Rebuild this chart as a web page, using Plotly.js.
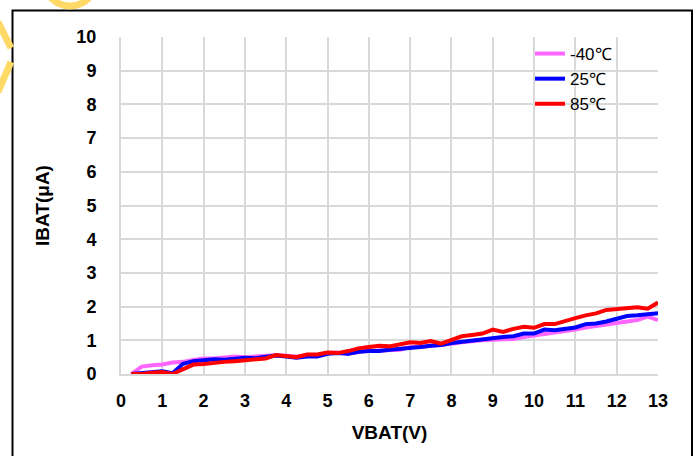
<!DOCTYPE html>
<html>
<head>
<meta charset="utf-8">
<script src="https://cdn.plot.ly/plotly-3.0.1.min.js"></script>
<style>html,body{margin:0;padding:0;background:#fff;}#chart{width:697px;height:456px;}</style>
</head>
<body>
<div id="chart"></div>
<script>
const vbat = [0.25,0.5,0.75,1,1.25,1.5,1.75,2,2.25,2.5,2.75,3,3.25,3.5,3.75,4,4.25,4.5,4.75,5,5.25,5.5,5.75,6,6.25,6.5,6.75,7,7.25,7.5,7.75,8,8.25,8.5,8.75,9,9.25,9.5,9.75,10,10.25,10.5,10.75,11,11.25,11.5,11.75,12,12.25,12.5,12.75,13];
const ibatM40 = [0,0.22,0.26,0.28,0.34,0.36,0.42,0.46,0.46,0.5,0.52,0.5,0.52,0.54,0.56,0.54,0.52,0.56,0.56,0.62,0.64,0.6,0.66,0.7,0.7,0.72,0.72,0.8,0.8,0.84,0.86,0.9,0.94,0.98,1.0,1.02,1.04,1.04,1.1,1.14,1.18,1.22,1.26,1.32,1.38,1.42,1.46,1.5,1.56,1.6,1.7,1.6];
const ibat25 = [0,0.02,0.04,0.08,0.02,0.3,0.38,0.4,0.44,0.42,0.46,0.48,0.47,0.5,0.55,0.52,0.48,0.52,0.52,0.6,0.62,0.6,0.66,0.68,0.68,0.72,0.74,0.78,0.8,0.84,0.86,0.92,0.96,1.0,1.02,1.06,1.1,1.12,1.2,1.2,1.32,1.3,1.34,1.38,1.48,1.5,1.56,1.64,1.72,1.74,1.78,1.8];
const ibat85 = [0,0,0.04,0.06,0,0.14,0.28,0.3,0.34,0.36,0.38,0.4,0.42,0.46,0.56,0.52,0.5,0.58,0.58,0.64,0.62,0.68,0.76,0.8,0.84,0.82,0.88,0.94,0.92,0.98,0.9,1.0,1.12,1.16,1.2,1.32,1.25,1.34,1.4,1.37,1.48,1.48,1.58,1.66,1.74,1.8,1.9,1.92,1.96,1.98,1.94,2.12];
const seriesNames = ['-40℃','25℃','85℃'];
const seriesColors = ['#FF66FF','#0000FF','#FF0000'];
const xTicks = [0,1,2,3,4,5,6,7,8,9,10,11,12,13];
const yTicks = [0,1,2,3,4,5,6,7,8,9,10];

const W = 697, H = 456, L = 121, R = 658, T = 37, B = 374.5;
const px = v => (v - L) / (R - L);
const py = v => (B - v) / (B - T);

const ys = [ibatM40, ibat25, ibat85];
const traces = ys.map((y, i) => ({
  x: vbat, y: y, type: 'scatter', mode: 'lines', name: seriesNames[i],
  line: {color: seriesColors[i], width: 4}
}));

const font = 'Liberation Sans, Arial, sans-serif';
const layout = {
  width: W, height: H,
  margin: {l: L, r: W - R, t: T, b: H - B, pad: 0},
  paper_bgcolor: '#fff', plot_bgcolor: '#fff',
  showlegend: true,
  legend: {x: px(530), y: py(36), xanchor: 'left', yanchor: 'top', bgcolor: 'rgba(0,0,0,0)',
    font: {family: font, size: 17, color: '#000'}, tracegroupgap: 0},
  xaxis: {range: [0, 13], tickvals: xTicks, ticktext: xTicks.map(String), showgrid: true, gridcolor: '#d9d9d9', gridwidth: 2,
    zeroline: false, showline: true, linecolor: '#d9d9d9', linewidth: 2, ticks: '', ticklabelstandoff: 9,
    tickfont: {family: font, size: 18, color: '#000', weight: 'bold'},
    title: {text: 'VBAT(V)', font: {family: font, size: 19, color: '#000', weight: 'bold'}, standoff: 16}, fixedrange: true},
  yaxis: {range: [0, 10], tickvals: yTicks, ticktext: yTicks.map(String), showgrid: true, gridcolor: '#d9d9d9', gridwidth: 2,
    zeroline: false, showline: true, linecolor: '#d9d9d9', linewidth: 2, ticks: '', ticklabelstandoff: 19,
    tickfont: {family: font, size: 18, color: '#000', weight: 'bold'},
    title: {text: 'IBAT(μA)', font: {family: font, size: 19, color: '#000', weight: 'bold'}, standoff: 22}, fixedrange: true},
  shapes: [
    {type: 'rect', xref: 'paper', yref: 'paper', x0: px(12.5), x1: px(692), y0: py(10.5), y1: py(470), line: {color: '#000', width: 2}, fillcolor: 'rgba(0,0,0,0)', layer: 'below'},
    {type: 'circle', xref: 'paper', yref: 'paper', x0: px(45), x1: px(95), y0: py(-42), y1: py(6), line: {color: '#FFD966', width: 7}, layer: 'below'},
    {type: 'line', xref: 'paper', yref: 'paper', x0: px(-2), y0: py(22), x1: px(11), y1: py(48), line: {color: '#FFD966', width: 7}, layer: 'below'},
    {type: 'line', xref: 'paper', yref: 'paper', x0: px(11), y0: py(62), x1: px(-2), y1: py(92), line: {color: '#FFD966', width: 7}, layer: 'below'}
  ]
};
Plotly.newPlot('chart', traces, layout, {displayModeBar: false, staticPlot: true});
</script>
</body>
</html>
